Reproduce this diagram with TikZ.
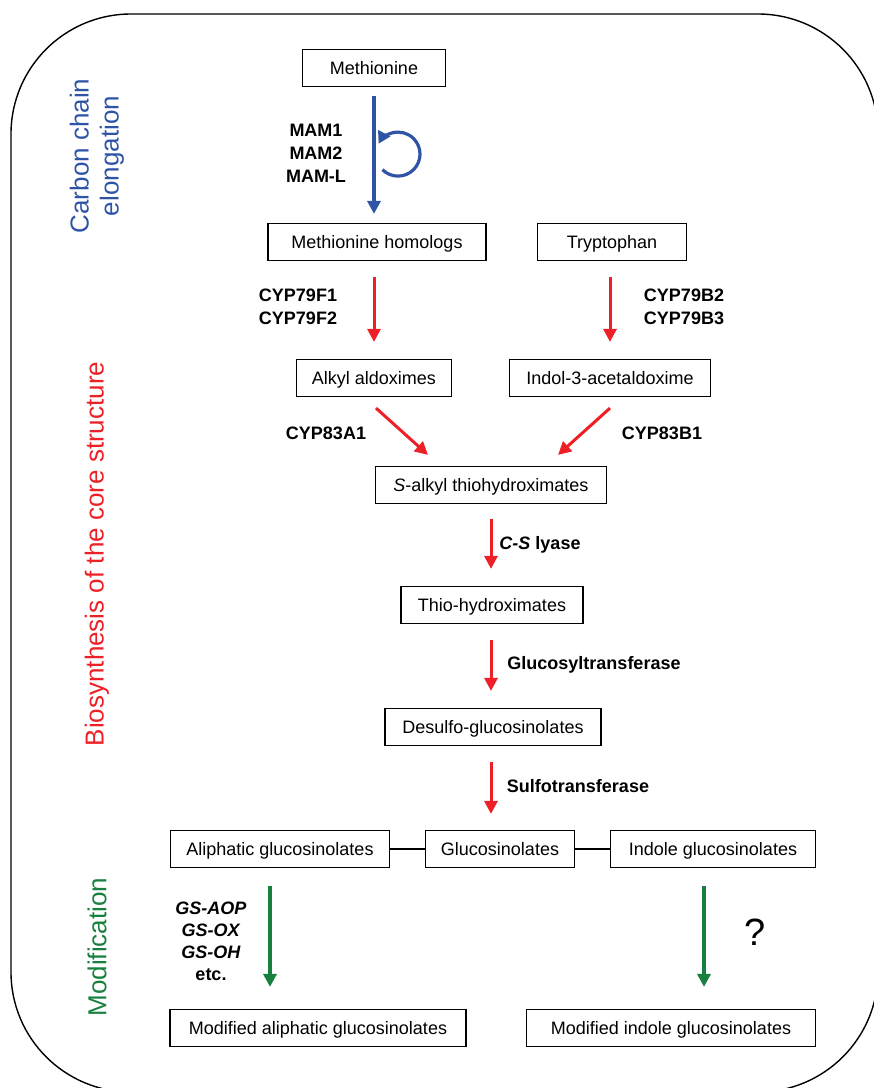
\documentclass[tikz,border=0pt]{standalone}
\usepackage{fontspec}
\setmainfont{Liberation Sans}
\usetikzlibrary{arrows.meta,calc}
\definecolor{cblue}{RGB}{47,84,166}
\definecolor{cred}{RGB}{236,32,38}
\definecolor{cgreen}{RGB}{24,128,62}
\begin{document}
\begin{tikzpicture}[x=1pt,y=1pt,
  box/.style={draw, line width=1.2pt, minimum height=37pt, inner sep=0pt, text height=15.5pt, text depth=2.5pt, font=\fontsize{18}{22}\selectfont},
  enz/.style={font=\bfseries\fontsize{18}{23}\selectfont, align=center},
  side/.style={rotate=90, font=\fontsize{26}{30}\selectfont, align=center},
  arr/.style={line width=3pt, -{Triangle[length=13pt,width=13pt]}},
  redarrow/.style={arr, draw=cred},
  bluearrow/.style={arr, draw=cblue, line width=3.2pt},
  greenarrow/.style={arr, draw=cgreen, line width=3.4pt},
  link/.style={line width=1.2pt}
]
\useasboundingbox (0,0) rectangle (874,-1088);
\clip (0,0) rectangle (874,-1088);
\draw[line width=1.4pt, rounded corners=120pt] (11,-14) rectangle (878,-1092);

% side labels
\node[side, text=cblue] (lcarbon) at (97,-156) {Carbon chain\\elongation};
\node[side, text=cred] (lbio) at (97,-554) {Biosynthesis of the core structure};
\node[side, text=cgreen] (lmod) at (97,-947) {Modification};

% boxes
\node[box, minimum width=143pt] (meth) at (374,-68) {Methionine};
\node[box, minimum width=218pt] (homo) at (377,-242) {Methionine homologs};
\node[box, minimum width=149pt] (trp) at (612,-242) {Tryptophan};
\node[box, minimum width=155pt] (alk) at (374,-378) {Alkyl aldoximes};
\node[box, minimum width=201pt] (ind3) at (610,-378) {Indol-3-acetaldoxime};
\node[box, minimum width=231pt] (sal) at (491,-485) {\textit{S}-alkyl thiohydroximates};
\node[box, minimum width=182pt] (thio) at (492,-605) {Thio-hydroximates};
\node[box, minimum width=216pt] (desu) at (493,-727) {Desulfo-glucosinolates};
\node[box, minimum width=219pt] (ali) at (280,-849) {Aliphatic glucosinolates};
\node[box, minimum width=149pt] (glu) at (500,-849) {Glucosinolates};
\node[box, minimum width=205pt] (indg) at (713,-849) {Indole glucosinolates};
\node[box, minimum width=296pt] (mali) at (318,-1028) {Modified aliphatic glucosinolates};
\node[box, minimum width=289pt] (mind) at (671,-1028) {Modified indole glucosinolates};

% enzyme labels
\node[enz] (mam) at (316,-153) {MAM1\\MAM2\\MAM-L};
\node[enz] (cypf) at (298,-307) {CYP79F1\\CYP79F2};
\node[enz] (cypb) at (684,-307) {CYP79B2\\CYP79B3};
\node[enz] (cypa1) at (326,-433) {CYP83A1};
\node[enz] (cypb1) at (662,-433) {CYP83B1};
\node[enz] (lyase) at (540,-545) {\textit{C-S} lyase};
\node[enz] (gtr) at (594,-665) {Glucosyltransferase};
\node[enz] (str) at (578,-786) {Sulfotransferase};
\node[enz, font=\bfseries\fontsize{18}{22}\selectfont] (gs) at (211,-941) {\textit{GS-AOP}\\\textit{GS-OX}\\\textit{GS-OH}\\etc.};
\node[font=\fontsize{38}{42}\selectfont] (q) at (755,-932) {?};

% blue elongation arrow with loop
\draw[bluearrow] ($(meth.south)+(0,-9)$) -- ($(homo.north)+(-3,9)$);
\coordinate (loopc) at ($(meth.south)+(24,-67)$);
\draw[draw=cblue, line width=3.2pt, -{Triangle[length=12pt,width=13pt]}] (loopc) ++(225:22pt) arc[start angle=225, end angle=512, radius=22pt];

% red arrows
\draw[redarrow] ($(homo.south)+(-3,-16)$) -- ($(alk.north)+(0,17)$);
\draw[redarrow] ($(trp.south)+(-2,-16)$) -- ($(ind3.north)+(0,17)$);
\draw[redarrow] ($(alk.south)+(2,-11)$) -- ($(sal.north)+(-63,11)$);
\draw[redarrow] ($(ind3.south)+(0,-11)$) -- ($(sal.north)+(67,11)$);
\draw[redarrow] ($(sal.south)+(0,-15)$) -- ($(thio.north)+(-1,17)$);
\draw[redarrow] ($(thio.south)+(-1,-16)$) -- ($(desu.north)+(-2,17)$);
\draw[redarrow] ($(desu.south)+(-2,-16)$) -- ($(glu.north)+(-9,16)$);

% links
\draw[link] (ali.east) -- (glu.west);
\draw[link] (glu.east) -- (indg.west);

% green arrows
\draw[greenarrow] ($(ali.south)+(-10,-18)$) -- ($(mali.north)+(-48,22)$);
\draw[greenarrow] ($(indg.south)+(-9,-18)$) -- ($(mind.north)+(33,22)$);
\end{tikzpicture}
\end{document}
